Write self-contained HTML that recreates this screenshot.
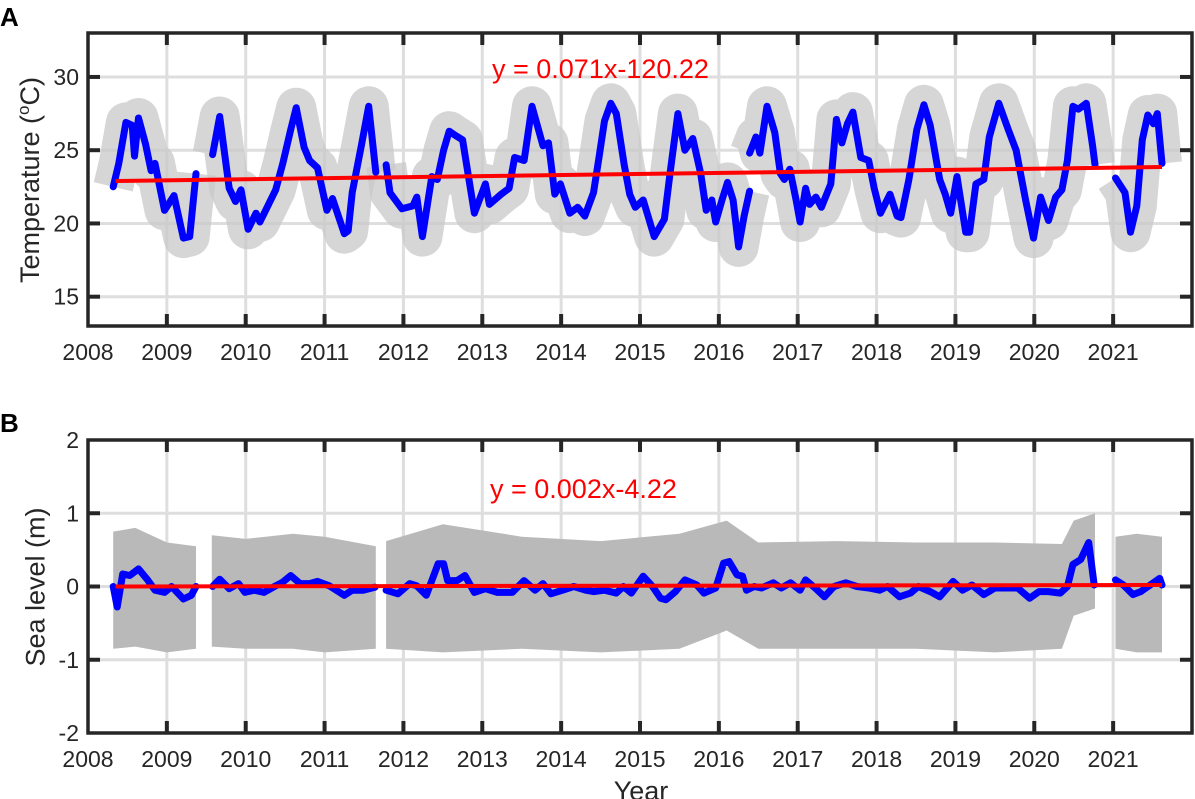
<!DOCTYPE html>
<html><head><meta charset="utf-8">
<style>
html,body{margin:0;padding:0;background:#fff;}
svg{display:block;font-family:"Liberation Sans",Arial,sans-serif;}
</style></head>
<body>
<svg id="fig" width="1195" height="799" viewBox="0 0 1195 799"></svg>
<script>
// ---- Data ----
const yearTicks = [2008,2009,2010,2011,2012,2013,2014,2015,2016,2017,2018,2019,2020,2021];
const tempTicks = [15,20,25,30];
const seaTicks = [-2,-1,0,1,2];

// Temperature smoothed series (segments separated by gaps)
const tempTimes = [
 [2008.32,2008.39,2008.48,2008.56,2008.59,2008.64,2008.73,2008.80,2008.85,2008.97,2009.09,2009.21,2009.29,2009.37],
 [2009.58,2009.67,2009.79,2009.87,2009.94,2010.03,2010.13,2010.18,2010.28,2010.38,2010.47,2010.57,2010.64,2010.74,2010.81,2010.91,2011.03,2011.10,2011.25,2011.30,2011.35,2011.47,2011.56,2011.65],
 [2011.78,2011.83,2011.98,2012.12,2012.17,2012.24,2012.36,2012.43,2012.51,2012.58,2012.66,2012.75,2012.90,2013.04,2013.09,2013.24,2013.34,2013.41,2013.53,2013.63,2013.77,2013.84,2013.92,2013.99,2014.11,2014.21,2014.30,2014.41,2014.48,2014.55,2014.63,2014.70,2014.80,2014.87,2014.94,2015.04,2015.18,2015.31,2015.38,2015.48,2015.57,2015.67,2015.77,2015.84,2015.91,2015.96,2016.04,2016.11,2016.18,2016.25,2016.32,2016.39],
 [2016.39,2016.47,2016.52,2016.61,2016.71,2016.78,2016.83,2016.90,2016.98,2017.03,2017.10,2017.15,2017.23,2017.30,2017.42,2017.49,2017.56,2017.63,2017.70,2017.80,2017.90,2017.97,2018.05,2018.17,2018.26,2018.31,2018.41,2018.51,2018.60,2018.68,2018.80,2018.87,2018.94,2019.02,2019.13,2019.18,2019.26,2019.36,2019.43,2019.55,2019.67,2019.77,2019.89,2019.99,2020.08,2020.18,2020.27,2020.35,2020.42,2020.49,2020.56,2020.66,2020.74,2020.77],
 [2021.03,2021.15,2021.22,2021.30,2021.37,2021.44,2021.51,2021.56,2021.62]
];
const tempValues = [
 [22.5,24.1,26.9,26.7,24.6,27.2,25.4,23.6,24.1,20.9,21.9,19.0,19.1,23.4],
 [24.7,27.3,22.4,21.5,22.3,19.6,20.7,20.1,21.2,22.3,24.1,26.4,27.9,25.2,24.3,23.8,20.9,21.7,19.3,19.5,22.1,25.4,28.0,23.5],
 [24.0,22.1,21.0,21.2,21.8,19.1,23.2,23.0,25.0,26.3,26.0,25.7,20.7,22.7,21.3,22.0,22.4,24.5,24.3,28.0,25.3,25.5,22.0,22.7,20.7,21.1,20.5,22.1,24.5,27.0,28.2,27.5,24.0,22.0,21.1,21.6,19.1,20.3,23.4,27.5,25.0,25.8,23.4,20.9,21.6,20.1,21.6,22.8,21.6,18.4,20.5,22.2],
 [24.8,25.9,24.8,28.0,26.2,23.4,23.0,23.7,21.6,20.1,22.4,21.3,21.8,21.1,22.7,27.1,25.5,26.8,27.6,24.5,24.3,22.4,20.7,22.0,20.5,20.4,23.0,26.4,28.1,26.7,23.0,22.0,20.7,23.2,19.4,19.4,22.7,23.0,25.9,28.2,26.4,25.0,21.6,19.0,21.8,20.2,21.8,22.3,24.3,28.0,27.8,28.2,25.3,24.0],
 [23.1,22.1,19.4,21.2,25.7,27.4,26.8,27.5,24.1]
];
const tempTrendX = [2008.35,2021.62];
const tempTrendY = [22.9,23.85];

// Sea level smoothed series
const seaTimes = [
 [2008.32,2008.37,2008.44,2008.53,2008.64,2008.75,2008.85,2008.97,2009.06,2009.21,2009.31,2009.37],
 [2009.58,2009.67,2009.79,2009.91,2009.99,2010.11,2010.23,2010.38,2010.47,2010.57,2010.69,2010.81,2010.91,2011.06,2011.25,2011.35,2011.49,2011.64],
 [2011.78,2011.93,2012.08,2012.17,2012.29,2012.44,2012.51,2012.56,2012.68,2012.78,2012.90,2013.04,2013.19,2013.38,2013.53,2013.67,2013.77,2013.87,2014.02,2014.16,2014.31,2014.41,2014.55,2014.70,2014.79,2014.89,2015.04,2015.16,2015.26,2015.33,2015.45,2015.57,2015.72,2015.81,2015.96,2016.06,2016.13,2016.23,2016.30,2016.35,2016.45,2016.54,2016.69,2016.79,2016.91,2017.03,2017.10,2017.22,2017.34,2017.46,2017.61,2017.75,2017.90,2018.04,2018.14,2018.29,2018.43,2018.53,2018.68,2018.80,2018.97,2019.09,2019.21,2019.36,2019.50,2019.64,2019.79,2019.94,2020.06,2020.18,2020.33,2020.42,2020.49,2020.59,2020.69,2020.76],
 [2021.03,2021.13,2021.25,2021.35,2021.47,2021.59,2021.62]
];
const seaValues = [
 [0.0,-0.28,0.17,0.15,0.24,0.10,-0.05,-0.08,0.0,-0.17,-0.12,0.0],
 [0.0,0.10,-0.03,0.04,-0.08,-0.05,-0.08,0.01,0.06,0.15,0.04,0.04,0.07,0.01,-0.12,-0.05,-0.05,-0.01],
 [-0.05,-0.10,0.04,0.01,-0.12,0.31,0.31,0.08,0.08,0.15,-0.08,-0.03,-0.08,-0.08,0.08,-0.05,0.04,-0.10,-0.05,0.0,-0.05,-0.07,-0.05,-0.09,0.0,-0.09,0.14,0.0,-0.16,-0.18,-0.07,0.09,0.02,-0.09,-0.02,0.32,0.34,0.16,0.14,-0.05,0.0,-0.02,0.05,-0.02,0.05,-0.05,0.09,-0.02,-0.14,0.0,0.05,0.0,-0.02,-0.05,0.0,-0.14,-0.09,0.0,-0.07,-0.14,0.07,-0.05,0.02,-0.11,-0.02,-0.02,-0.02,-0.16,-0.07,-0.07,-0.09,0.0,0.30,0.37,0.60,0.02],
 [0.09,0.02,-0.11,-0.07,0.02,0.11,0.02]
];
// Raw-data envelope (upper / lower extents of the hourly record)
const seaEnvTimes = [
 [2008.32,2008.6,2009.0,2009.37],
 [2009.57,2010.0,2010.6,2011.0,2011.65],
 [2011.78,2012.5,2013.5,2014.5,2015.5,2016.1,2016.5,2017.5,2018.5,2019.5,2020.35,2020.5,2020.77],
 [2021.03,2021.3,2021.62]
];
const seaEnvUpper = [
 [0.75,0.8,0.6,0.55],
 [0.7,0.65,0.72,0.68,0.55],
 [0.62,0.85,0.68,0.62,0.72,0.9,0.6,0.62,0.6,0.6,0.58,0.9,1.0],
 [0.68,0.72,0.68]
];
const seaEnvLower = [
 [-0.85,-0.82,-0.9,-0.85],
 [-0.82,-0.85,-0.85,-0.9,-0.85],
 [-0.85,-0.9,-0.85,-0.9,-0.85,-0.6,-0.85,-0.85,-0.85,-0.9,-0.85,-0.4,-0.3],
 [-0.85,-0.9,-0.9]
];
const seaTrendX = [2008.35,2021.62];
const seaTrendY = [0.0,0.02];

// ---- Drawing ----
const NS = 'http://www.w3.org/2000/svg';
const svg = document.getElementById('fig');
const X0 = 88, X1 = 1192, XMIN = 2008, XMAX = 2022;
function xs(t){ return X0 + (t - XMIN) / (XMAX - XMIN) * (X1 - X0); }
function mk(tag, attrs, parent){
  const e = document.createElementNS(NS, tag);
  for (const k in attrs) e.setAttribute(k, attrs[k]);
  (parent || svg).appendChild(e);
  return e;
}
function linePath(ts, vs, ys){
  return ts.map((t,i)=>(i?'L':'M')+xs(t).toFixed(1)+' '+ys(vs[i]).toFixed(1)).join(' ');
}

function panel(cfg){
  const g = mk('g', {});
  
  
  const ys = v => cfg.bot - (v - cfg.ymin) / (cfg.ymax - cfg.ymin) * (cfg.bot - cfg.top);
  cfg.yticks.forEach(v=>{
    if (v===cfg.ymin || v===cfg.ymax) return;
    const l = mk('line', {x1:X0, x2:X1, y1:ys(v), y2:ys(v), stroke:'#dedede', 'stroke-width':3}, g);
    
    
  });
  yearTicks.forEach(t=>{
    if (t===XMIN) return;
    const l = mk('line', {x1:xs(t), x2:xs(t), y1:cfg.top, y2:cfg.bot, stroke:'#dedede', 'stroke-width':3}, g);
    
    
  });
  cfg.drawRaw(g, ys);
  cfg.times.forEach((ts,si)=>{
    const p = mk('path', {d:linePath(ts, cfg.values[si], ys), fill:'none', stroke:'#0000ff', 'stroke-width':7, 'stroke-linejoin':'round', 'stroke-linecap':'round'}, g);
    
    
  });
  const tr = mk('path', {d:linePath(cfg.trendX, cfg.trendY, ys), fill:'none', stroke:'#ff0000', 'stroke-width':4}, g);
  
  
  const fr = mk('rect', {x:X0, y:cfg.top, width:X1-X0, height:cfg.bot-cfg.top, fill:'none', stroke:'#262626', 'stroke-width':3.5}, g);
  
  
  yearTicks.forEach(t=>{
    if (t===XMIN) return;
    const a = mk('line', {x1:xs(t), x2:xs(t), y1:cfg.bot, y2:cfg.bot-12, stroke:'#262626', 'stroke-width':4}, g);
    
    
    const b = mk('line', {x1:xs(t), x2:xs(t), y1:cfg.top, y2:cfg.top+12, stroke:'#262626', 'stroke-width':4}, g);
    
    
  });
  yearTicks.forEach(t=>{
    const tx = mk('text', {x:xs(t), y:cfg.bot+34, 'text-anchor':'middle', 'font-size':23, fill:'#262626'}, g);
    tx.textContent = t;
    
    
  });
  cfg.yticks.forEach(v=>{
    if (v!==cfg.ymin && v!==cfg.ymax){
      const a = mk('line', {x1:X0, x2:X0+12, y1:ys(v), y2:ys(v), stroke:'#262626', 'stroke-width':4}, g);
      
      
      const b = mk('line', {x1:X1, x2:X1-12, y1:ys(v), y2:ys(v), stroke:'#262626', 'stroke-width':4}, g);
      
      
    }
    const tx = mk('text', {x:X0-9, y:ys(v)+8, 'text-anchor':'end', 'font-size':23, fill:'#262626'}, g);
    tx.textContent = v;
    
    
  });
  const eq = mk('text', {x:cfg.eqX, y:cfg.eqY, 'font-size':27, fill:'#ff0000'}, g);
  eq.textContent = cfg.eq;
  
  
  return ys;
}

panel({
  name:'temperature-panel', top:33, bot:326, ymin:13, ymax:33, yticks:tempTicks,
  times:tempTimes, values:tempValues, trendX:tempTrendX, trendY:tempTrendY,
  eq:'y = 0.071x-120.22', eqX:492, eqY:78,
  drawRaw:(g, ys)=>{
    tempTimes.forEach((ts,si)=>{
      const p = mk('path', {d:linePath(ts, tempValues[si], ys), fill:'none', stroke:'#c8c8c8', 'stroke-width':40, 'stroke-linejoin':'round', 'stroke-linecap':'butt', opacity:0.75}, g);
      
      
    });
  }
});

panel({
  name:'sea-level-panel', top:440, bot:733, ymin:-2, ymax:2, yticks:seaTicks,
  times:seaTimes, values:seaValues, trendX:seaTrendX, trendY:seaTrendY,
  eq:'y = 0.002x-4.22', eqX:490, eqY:498,
  drawRaw:(g, ys)=>{
    seaEnvTimes.forEach((ts,si)=>{
      const up = ts.map((t,i)=>xs(t).toFixed(1)+','+ys(seaEnvUpper[si][i]).toFixed(1));
      const lo = ts.map((t,i)=>xs(t).toFixed(1)+','+ys(seaEnvLower[si][i]).toFixed(1)).reverse();
      const p = mk('polygon', {points:up.concat(lo).join(' '), fill:'#b9b9b9'}, g);
      
      
    });
  }
});

function txt(attrs, s, name){
  const t = mk('text', attrs);
  t.textContent = s;
  
  
  return t;
}
txt({x:0, y:26, 'font-size':26, 'font-weight':'bold', fill:'#000'}, 'A', 'panel-label-a');
txt({x:0, y:432, 'font-size':26, 'font-weight':'bold', fill:'#000'}, 'B', 'panel-label-b');
txt({x:641, y:800, 'text-anchor':'middle', 'font-size':27, fill:'#262626'}, 'Year', 'x-axis-title');
</script>
<div style="position:absolute;left:0;top:0;width:1195px;height:799px;pointer-events:none;">
  <div style="position:absolute;left:30px;top:180px;transform:translate(-50%,-50%) rotate(-90deg);white-space:nowrap;font-family:'Liberation Sans',sans-serif;font-size:27px;color:#262626;">Temperature (<sup style="font-size:17px;vertical-align:10px;">o</sup>C)</div>
  <div style="position:absolute;left:36px;top:587px;transform:translate(-50%,-50%) rotate(-90deg);white-space:nowrap;font-family:'Liberation Sans',sans-serif;font-size:27px;color:#262626;">Sea level (m)</div>
</div>
</body></html>
